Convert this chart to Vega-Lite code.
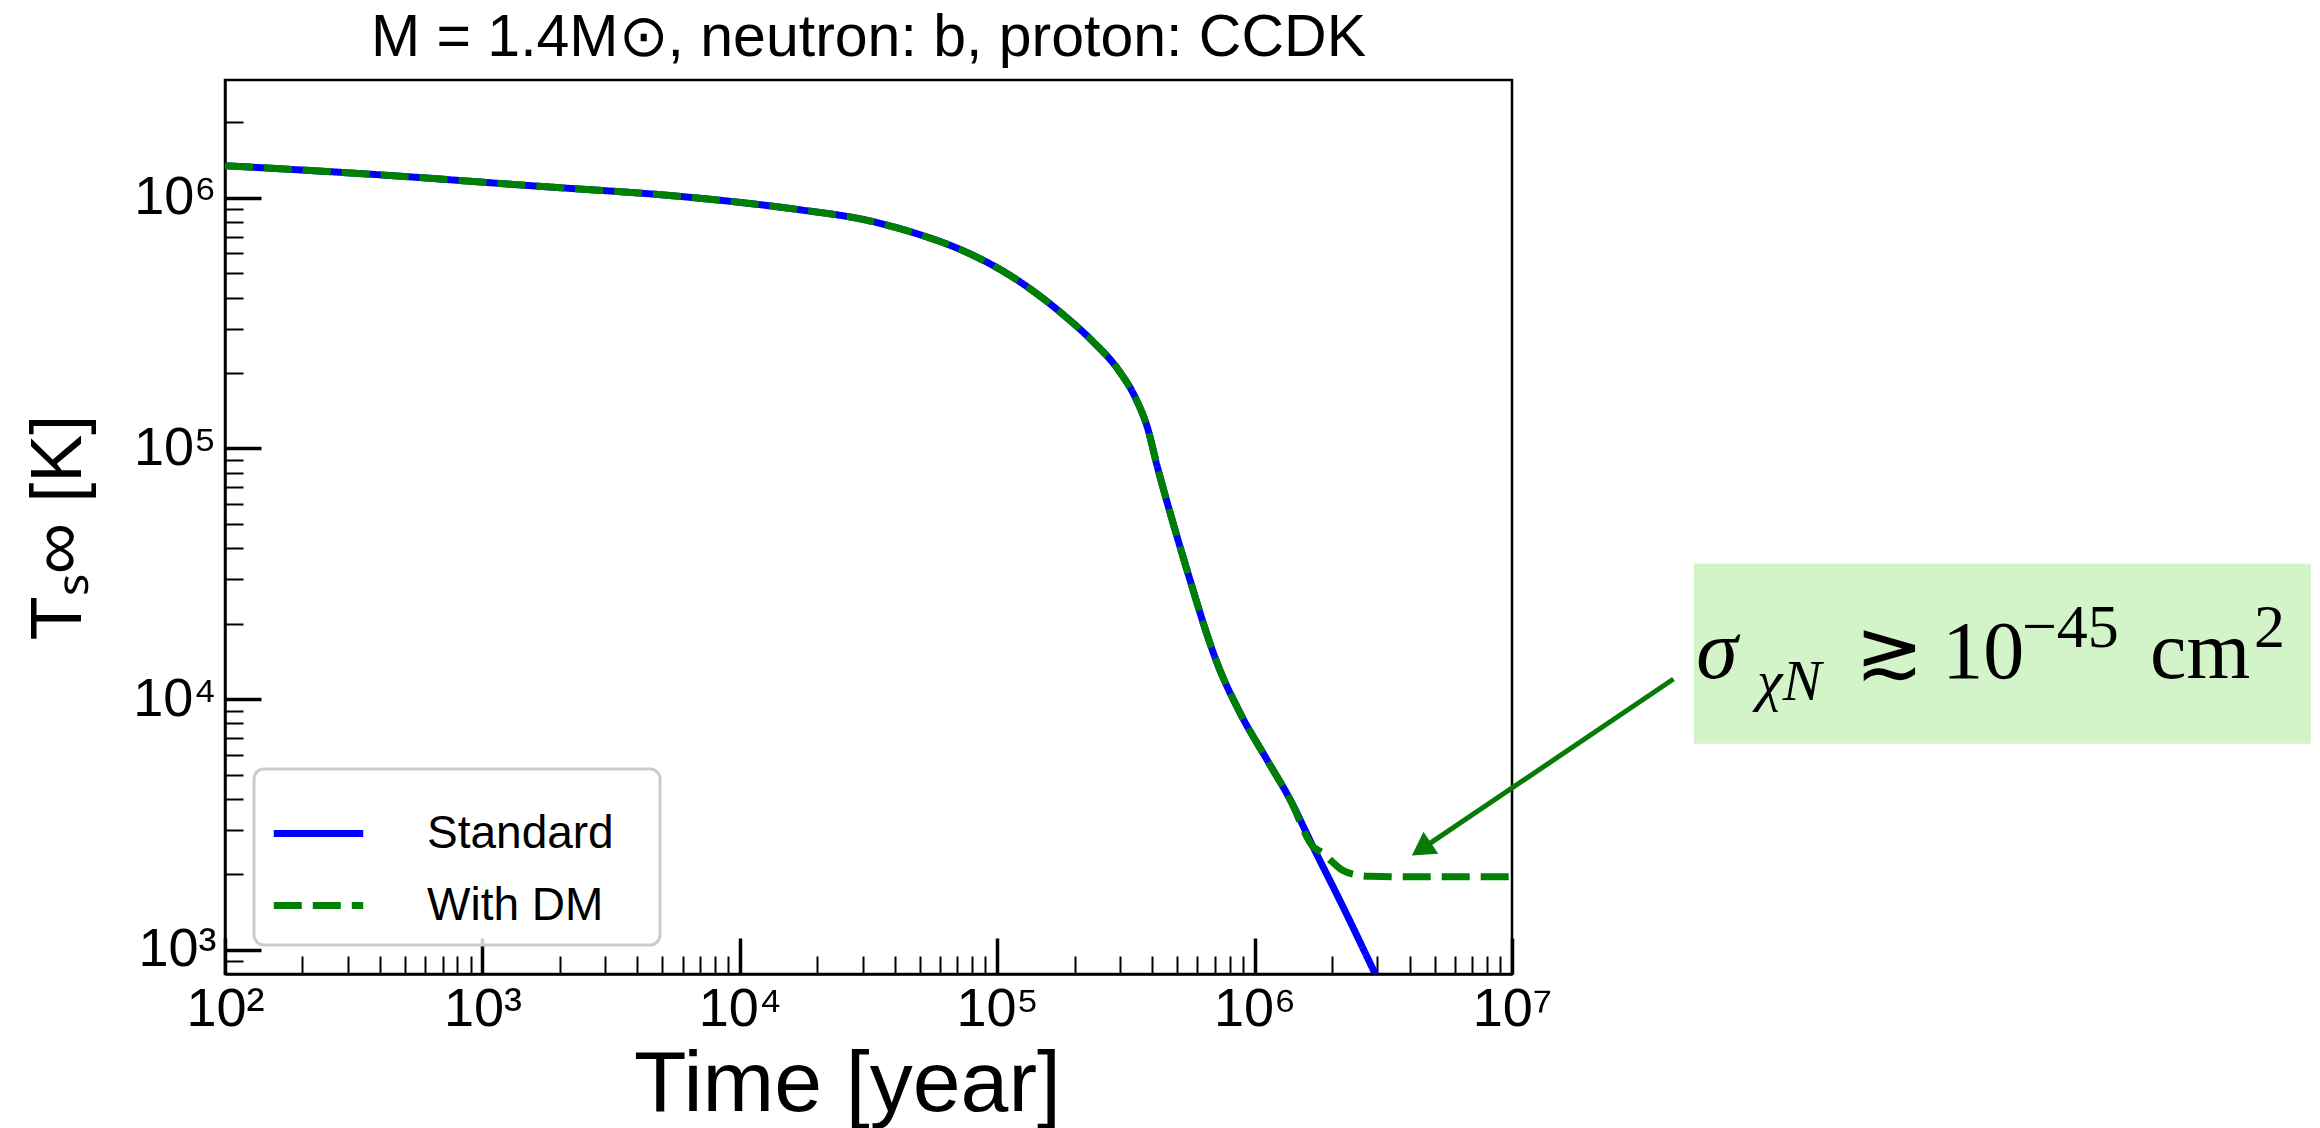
{
  "$schema": "https://vega.github.io/schema/vega-lite/v6.json",
  "autosize": {"type": "none"},
  "padding": {"left": 225, "top": 80, "right": 808, "bottom": 154},
  "width": 1287,
  "height": 894,
  "background": "white",
  "config": {
    "view": {"stroke": "black", "strokeWidth": 2.5},
    "font": "Liberation Sans",
    "legend": {"strokeWidth": 3}
  },
  "title": {
    "text": "M = 1.4M⊙, neutron: b, proton: CCDK",
    "font": "Liberation Sans",
    "fontSize": 59,
    "fontWeight": "normal",
    "color": "black",
    "anchor": "middle",
    "baseline": "bottom",
    "offset": 10,
    "dy": 57
  },
  "datasets": {
    "curves": [
      {"t": 100, "T": 1342700, "series": "Standard"},
      {"t": 392.6, "T": 1236000, "series": "Standard"},
      {"t": 1545, "T": 1116900, "series": "Standard"},
      {"t": 6067, "T": 1009300, "series": "Standard"},
      {"t": 12078, "T": 937600, "series": "Standard"},
      {"t": 17140, "T": 895400, "series": "Standard"},
      {"t": 30620, "T": 816600, "series": "Standard"},
      {"t": 47530, "T": 724400, "series": "Standard"},
      {"t": 73620, "T": 615200, "series": "Standard"},
      {"t": 114290, "T": 484200, "series": "Standard"},
      {"t": 177010, "T": 347500, "series": "Standard"},
      {"t": 235500, "T": 266700, "series": "Standard"},
      {"t": 297170, "T": 204200, "series": "Standard"},
      {"t": 342770, "T": 160700, "series": "Standard"},
      {"t": 385480, "T": 118850, "series": "Standard"},
      {"t": 417830, "T": 85310, "series": "Standard"},
      {"t": 452900, "T": 63100, "series": "Standard"},
      {"t": 490900, "T": 47320, "series": "Standard"},
      {"t": 537030, "T": 34670, "series": "Standard"},
      {"t": 576770, "T": 27230, "series": "Standard"},
      {"t": 631000, "T": 20180, "series": "Standard"},
      {"t": 714500, "T": 13960, "series": "Standard"},
      {"t": 877000, "T": 8831, "series": "Standard"},
      {"t": 1116900, "T": 5728, "series": "Standard"},
      {"t": 1374000, "T": 3972, "series": "Standard"},
      {"t": 1686600, "T": 2576, "series": "Standard"},
      {"t": 2203000, "T": 1486, "series": "Standard"},
      {"t": 2937600, "T": 803.5, "series": "Standard"},
      {"t": 3548000, "T": 537, "series": "Standard"},
      {"t": 100, "T": 1342700, "series": "With DM"},
      {"t": 392.6, "T": 1236000, "series": "With DM"},
      {"t": 1545, "T": 1116900, "series": "With DM"},
      {"t": 6067, "T": 1009300, "series": "With DM"},
      {"t": 12078, "T": 937600, "series": "With DM"},
      {"t": 17140, "T": 895400, "series": "With DM"},
      {"t": 30620, "T": 816600, "series": "With DM"},
      {"t": 47530, "T": 724400, "series": "With DM"},
      {"t": 73620, "T": 615200, "series": "With DM"},
      {"t": 114290, "T": 484200, "series": "With DM"},
      {"t": 177010, "T": 347500, "series": "With DM"},
      {"t": 235500, "T": 266700, "series": "With DM"},
      {"t": 297170, "T": 204200, "series": "With DM"},
      {"t": 342770, "T": 160700, "series": "With DM"},
      {"t": 385480, "T": 118850, "series": "With DM"},
      {"t": 417830, "T": 85310, "series": "With DM"},
      {"t": 452900, "T": 63100, "series": "With DM"},
      {"t": 490900, "T": 47320, "series": "With DM"},
      {"t": 537030, "T": 34670, "series": "With DM"},
      {"t": 576770, "T": 27230, "series": "With DM"},
      {"t": 631000, "T": 20180, "series": "With DM"},
      {"t": 714500, "T": 13960, "series": "With DM"},
      {"t": 877000, "T": 8831, "series": "With DM"},
      {"t": 1116900, "T": 5728, "series": "With DM"},
      {"t": 1374000, "T": 3972, "series": "With DM"},
      {"t": 1686600, "T": 2576, "series": "With DM"},
      {"t": 1840800, "T": 2427, "series": "With DM"},
      {"t": 1995300, "T": 2249, "series": "With DM"},
      {"t": 2187800, "T": 2080, "series": "With DM"},
      {"t": 2454700, "T": 1995, "series": "With DM"},
      {"t": 2818400, "T": 1963, "series": "With DM"},
      {"t": 3981100, "T": 1954, "series": "With DM"},
      {"t": 10000000, "T": 1954, "series": "With DM"}
    ],
    "box": [{"t": 50900000, "t2": 12700000000, "T": 34670, "T2": 6637}],
    "arrow": [{"t": 42400000, "T": 12020, "t2": 4446000, "T2": 2518}],
    "head": [{"t": 4446000, "T": 2518}],
    "annBig": [
      {"t": 215000000, "T": 12170, "label": "≳"},
      {"t": 469000000, "T": 12170, "label": "10"},
      {"t": 3010000000, "T": 12170, "label": "cm"}
    ],
    "annSigma": [{"t": 52000000, "T": 12170, "label": "σ"}],
    "annSub": [{"t": 89600000, "T": 9955, "label": "χN"}],
    "annSup": [
      {"t": 957000000, "T": 16180, "label": "−45"},
      {"t": 7640000000, "T": 16180, "label": "2"}
    ]
  },
  "encoding": {
    "x": {
      "field": "t",
      "type": "quantitative",
      "scale": {"type": "log", "domain": [100, 10000000], "nice": false},
      "axis": {
        "title": "Time [year]",
        "values": [100, 200, 300, 400, 500, 600, 700, 800, 900, 1000, 2000, 3000, 4000, 5000, 6000, 7000, 8000, 9000, 10000, 20000, 30000, 40000, 50000, 60000, 70000, 80000, 90000, 100000, 200000, 300000, 400000, 500000, 600000, 700000, 800000, 900000, 1000000, 2000000, 3000000, 4000000, 5000000, 6000000, 7000000, 8000000, 9000000, 10000000],
        "labelExpr": "abs(log(datum.value)/LN10 - round(log(datum.value)/LN10)) < 0.001 ? '10' + ['⁰','¹','²','³','⁴','⁵','⁶','⁷','⁸','⁹'][round(log(datum.value)/LN10)] : ''",
        "tickSize": {"condition": {"test": "abs(log(datum.value)/LN10 - round(log(datum.value)/LN10)) < 0.001", "value": -36}, "value": -18},
        "tickWidth": {"condition": {"test": "abs(log(datum.value)/LN10 - round(log(datum.value)/LN10)) < 0.001", "value": 3.5}, "value": 2},
        "tickColor": "black",
        "domainColor": "black",
        "domainWidth": 2.5,
        "grid": false,
        "labelFont": "Liberation Sans",
        "labelFontSize": 54,
        "labelColor": "black",
        "labelPadding": 44,
        "labelOverlap": false,
        "labelFlush": false,
        "titleFont": "Liberation Sans",
        "titleFontSize": 86,
        "titleFontWeight": "normal",
        "titleColor": "black",
        "titleBaseline": "alphabetic",
        "titleX": 622,
        "titleY": 136
      }
    },
    "y": {
      "field": "T",
      "type": "quantitative",
      "scale": {"type": "log", "domain": [800, 2950000], "nice": false},
      "axis": {
        "title": "Tₛ∞ [K]",
        "values": [900, 1000, 2000, 3000, 4000, 5000, 6000, 7000, 8000, 9000, 10000, 20000, 30000, 40000, 50000, 60000, 70000, 80000, 90000, 100000, 200000, 300000, 400000, 500000, 600000, 700000, 800000, 900000, 1000000, 2000000],
        "labelExpr": "abs(log(datum.value)/LN10 - round(log(datum.value)/LN10)) < 0.001 ? '10' + ['⁰','¹','²','³','⁴','⁵','⁶','⁷','⁸','⁹'][round(log(datum.value)/LN10)] : ''",
        "tickSize": {"condition": {"test": "abs(log(datum.value)/LN10 - round(log(datum.value)/LN10)) < 0.001", "value": -36}, "value": -18},
        "tickWidth": {"condition": {"test": "abs(log(datum.value)/LN10 - round(log(datum.value)/LN10)) < 0.001", "value": 3.5}, "value": 2},
        "tickColor": "black",
        "domainColor": "black",
        "domainWidth": 2.5,
        "grid": false,
        "labelFont": "Liberation Sans",
        "labelFontSize": 54,
        "labelColor": "black",
        "labelPadding": 45,
        "labelOverlap": false,
        "labelFlush": false,
        "labelBaseline": "middle",
        "titleFont": "Liberation Sans",
        "titleFontSize": 72,
        "titleFontWeight": "normal",
        "titleColor": "black",
        "titleAngle": -90,
        "titleAlign": "center",
        "titleBaseline": "alphabetic",
        "titleX": -145,
        "titleY": 447
      }
    }
  },
  "layer": [
    {
      "data": {"name": "curves"},
      "mark": {"type": "line", "strokeWidth": 7, "clip": true, "interpolate": "monotone"},
      "encoding": {
        "color": {
          "field": "series",
          "type": "nominal",
          "scale": {"domain": ["Standard", "With DM"], "range": ["#0000ff", "#008000"]},
          "legend": {
            "title": "\u00a0",
            "titleOrient": "right",
            "titlePadding": 30,
            "titleFontSize": 46,
            "orient": "bottom-left",
            "offset": 29,
            "padding": 16,
            "cornerRadius": 10,
            "fillColor": "rgba(255,255,255,0.8)",
            "strokeColor": "#cccccc",
            "symbolType": "stroke",
            "symbolSize": 8000,
            "symbolStrokeWidth": 7,
            "labelFont": "Liberation Sans",
            "labelFontSize": 46,
            "labelColor": "black",
            "labelOffset": 60,
            "labelLimit": 500,
            "rowPadding": 0
          }
        },
        "strokeDash": {
          "field": "series",
          "type": "nominal",
          "scale": {"domain": ["Standard", "With DM"], "range": [[1, 0], [28, 11]]},
          "legend": {
            "title": "\u00a0",
            "titleOrient": "right",
            "titlePadding": 30,
            "titleFontSize": 46,
            "orient": "bottom-left",
            "offset": 29,
            "padding": 16,
            "cornerRadius": 10,
            "fillColor": "rgba(255,255,255,0.8)",
            "strokeColor": "#cccccc",
            "symbolType": "stroke",
            "symbolSize": 8000,
            "symbolStrokeWidth": 7,
            "labelFont": "Liberation Sans",
            "labelFontSize": 46,
            "labelColor": "black",
            "labelOffset": 60,
            "labelLimit": 500,
            "rowPadding": 0
          }
        }
      }
    },
    {
      "data": {"name": "box"},
      "mark": {"type": "rect", "color": "#d3f3c8", "clip": false},
      "encoding": {
        "x2": {"field": "t2"},
        "y2": {"field": "T2"}
      }
    },
    {
      "data": {"name": "arrow"},
      "mark": {"type": "rule", "color": "#077a07", "strokeWidth": 5, "clip": false},
      "encoding": {
        "x2": {"field": "t2"},
        "y2": {"field": "T2"}
      }
    },
    {
      "data": {"name": "head"},
      "mark": {"type": "point", "shape": "triangle-up", "filled": true, "color": "#077a07", "opacity": 1, "size": 700, "angle": 236, "clip": false},
      "encoding": {}
    },
    {
      "data": {"name": "annBig"},
      "mark": {"type": "text", "font": "Liberation Serif", "fontSize": 82, "align": "left", "baseline": "alphabetic", "color": "black", "clip": false},
      "encoding": {"text": {"field": "label"}}
    },
    {
      "data": {"name": "annSigma"},
      "mark": {"type": "text", "font": "Liberation Serif", "fontSize": 84, "fontStyle": "italic", "align": "left", "baseline": "alphabetic", "color": "black", "clip": false},
      "encoding": {"text": {"field": "label"}}
    },
    {
      "data": {"name": "annSub"},
      "mark": {"type": "text", "font": "Liberation Serif", "fontSize": 58, "fontStyle": "italic", "align": "left", "baseline": "alphabetic", "color": "black", "clip": false},
      "encoding": {"text": {"field": "label"}}
    },
    {
      "data": {"name": "annSup"},
      "mark": {"type": "text", "font": "Liberation Serif", "fontSize": 62, "align": "left", "baseline": "alphabetic", "color": "black", "clip": false},
      "encoding": {"text": {"field": "label"}}
    }
  ]
}
